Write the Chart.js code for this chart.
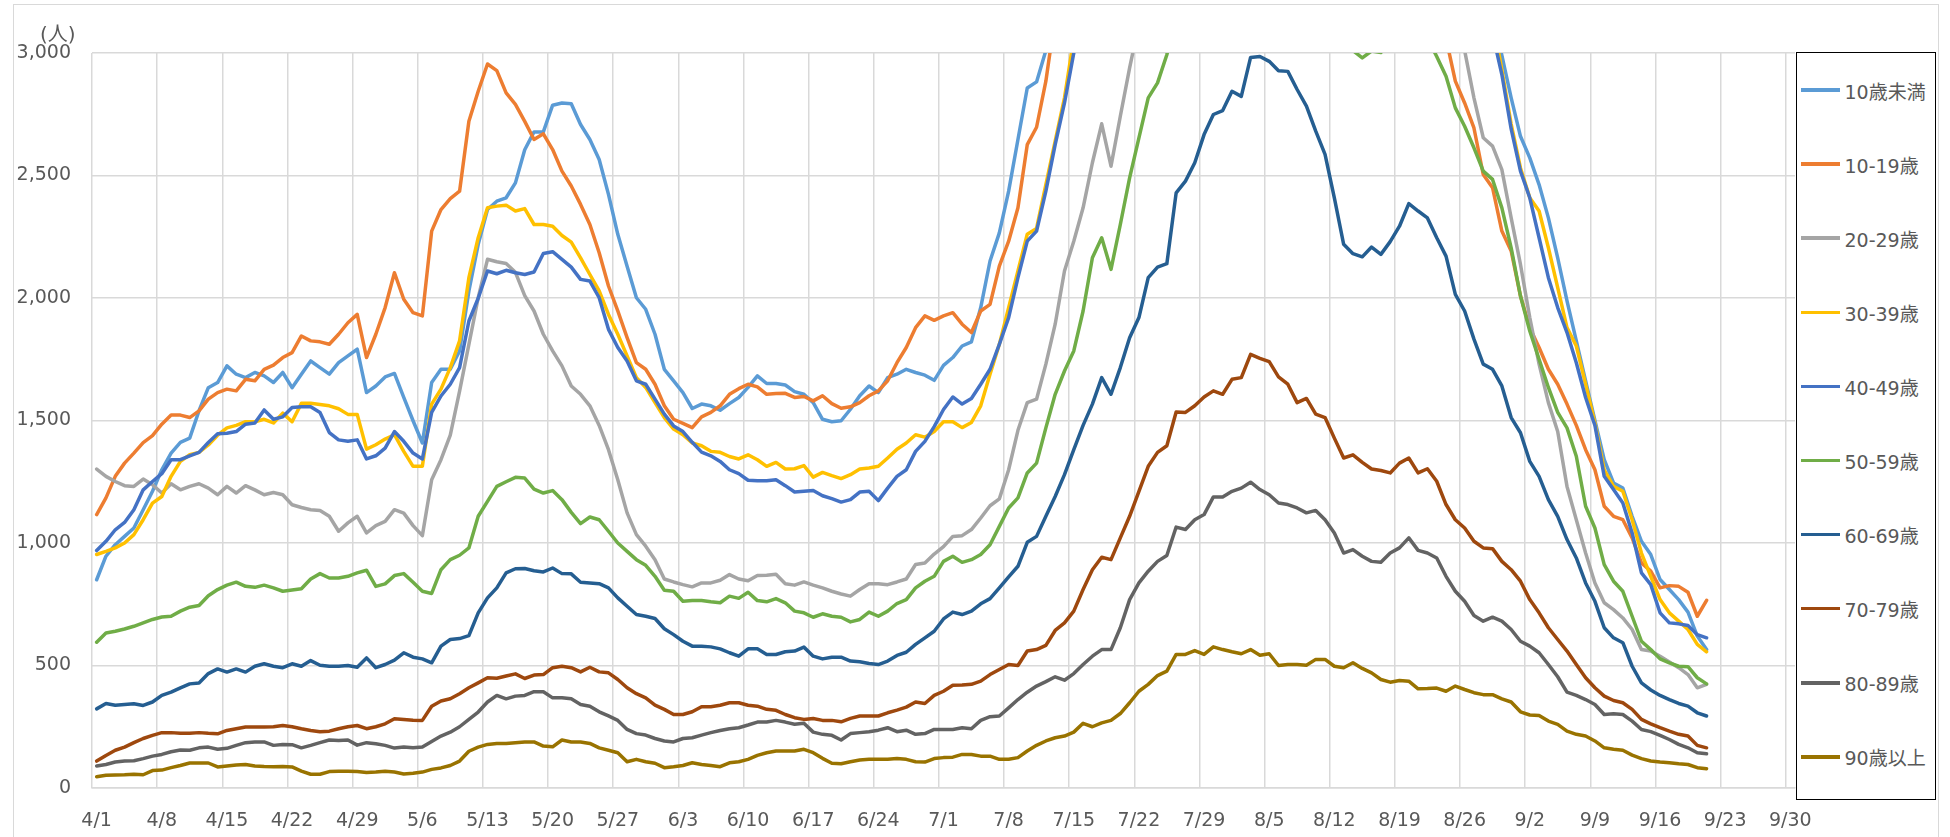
<!DOCTYPE html>
<html lang="ja">
<head>
<meta charset="utf-8">
<title>年代別 新規陽性者数</title>
<script src="https://cdn.jsdelivr.net/npm/chart.js@4.4.1/dist/chart.umd.min.js"></script>
<style>
  body { margin: 0; background: #fff; }
  #contenedor { position: relative; width: 1950px; height: 837px; overflow: hidden; background: #fff;
    font-family: "DejaVu Sans", "Noto Sans CJK JP", sans-serif; color: #595959; }
  #marco { position: absolute; left: 13px; top: 4px; width: 1924px; height: 880px; border: 1px solid #d9d9d9; }
  #grafica { position: absolute; left: 0; top: 0; }
  #unidad { position: absolute; left: 40px; top: 18px; font-size: 20px; }
  #leyenda { position: absolute; left: 1796px; top: 52px; width: 140px; height: 748px; box-sizing: border-box;
    border: 1.5px solid #000; background: #fff; }
  .item { height: 74.1px; display: flex; align-items: center; font-size: 19px; white-space: nowrap; }
  .linea { width: 39px; height: 3.5px; margin: 0 5px 0 3.5px; }
</style>
</head>
<body>
<div id="contenedor">
  <div id="marco"></div>
  <canvas id="grafica" width="1950" height="837"></canvas>
  <div id="unidad">(人)</div>
  <div id="leyenda"></div>
</div>
<script>
// 4/1 から 9/30 までの日付（目盛りは7日ごと）
const meses = [4, 5, 6, 7, 8, 9];
const diasPorMes = [30, 31, 30, 31, 31, 30];
const fechas = [];
meses.forEach((m, i) => {
    for (let d = 1; d <= diasPorMes[i]; d++) fechas.push(m + "/" + d);
});

const nombresSeries = ["10歳未満", "10-19歳", "20-29歳", "30-39歳", "40-49歳",
    "50-59歳", "60-69歳", "70-79歳", "80-89歳", "90歳以上"];
const coloresSeries = ["#5B9BD5", "#ED7D31", "#A5A5A5", "#FFC000", "#4472C4",
    "#70AD47", "#255E91", "#9E480E", "#636363", "#997300"];

// 一週間ごとに1行（4/1 〜 9/21）
const valores0a9 = [
    850, 946, 993, 1027, 1061, 1136, 1211,
    1299, 1367, 1411, 1428, 1540, 1634, 1655,
    1723, 1689, 1675, 1696, 1682, 1655, 1696,
    1634, 1689, 1743, 1716, 1689, 1736, 1764,
    1791, 1614, 1641, 1678, 1692, 1594, 1499,
    1408, 1655, 1709, 1709, 1784, 2029, 2219,
    2361, 2395, 2409, 2470, 2605, 2678, 2678,
    2787, 2796, 2793, 2708, 2647, 2565, 2423,
    2260, 2130, 2001, 1954, 1852, 1709, 1662,
    1614, 1549, 1567, 1560, 1542, 1569, 1594,
    1635, 1682, 1651, 1651, 1645, 1618, 1607,
    1573, 1505, 1495, 1499, 1546, 1601, 1641,
    1614, 1675, 1689, 1709, 1696, 1685, 1664,
    1725, 1757, 1804, 1821, 1961, 2151, 2266,
    2436, 2647, 2857, 2882, 3010, 3200, 3420,
    3600, 3780, 3950, 4150, 4300, 4420, 4600,
    4750, 4820, 4950, 5050, 5100, 5200, 5150,
    5250, 5300, 5200, 5280, 5150, 5100, 5050,
    4950, 4900, 4800, 4750, 4700, 4650, 4580,
    4500, 4420, 4350, 4300, 4250, 4150, 4050,
    3980, 3900, 3820, 3750, 3650, 3580, 3480,
    3380, 3300, 3230, 3160, 2990, 2817, 2660,
    2572, 2463, 2327, 2164, 1988, 1825, 1662,
    1500, 1340, 1245, 1224, 1109, 1007, 953,
    851, 810, 769, 718, 620, 565
];
const valores10a19 = [
    1116, 1184, 1272, 1326, 1367, 1410, 1438,
    1485, 1522, 1522, 1512, 1539, 1587, 1614,
    1628, 1621, 1668, 1662, 1709, 1726, 1757,
    1777, 1845, 1825, 1821, 1811, 1852, 1899,
    1933, 1757, 1852, 1961, 2103, 1995, 1940,
    1927, 2273, 2361, 2406, 2436, 2721, 2844,
    2955, 2928, 2837, 2790, 2721, 2647, 2670,
    2606, 2518, 2457, 2382, 2300, 2185, 2049,
    1947, 1838, 1736, 1709, 1648, 1560, 1505,
    1488, 1471, 1515, 1533, 1560, 1607, 1630,
    1648, 1637, 1607, 1610, 1611, 1594, 1598,
    1580, 1601, 1569, 1550, 1556, 1573, 1601,
    1621, 1662, 1736, 1798, 1879, 1927, 1909,
    1927, 1940, 1893, 1859, 1947, 1974, 2130,
    2232, 2368, 2626, 2697, 2885, 3150, 3350,
    3500, 3700, 3850, 4000, 4150, 4250, 4400,
    4500, 4550, 4650, 4700, 4750, 4800, 4750,
    4850, 4800, 4700, 4750, 4650, 4600, 4500,
    4450, 4350, 4300, 4200, 4150, 4050, 3950,
    3900, 3800, 3700, 3650, 3550, 3500, 3400,
    3350, 3300, 3250, 3180, 3120, 3060, 2885,
    2796, 2694, 2504, 2450, 2273, 2192, 2008,
    1879, 1798, 1709, 1648, 1567, 1480, 1381,
    1299, 1150, 1109, 1095, 1021, 919, 885,
    817, 826, 823, 799, 701, 766
];
const valores20a29 = [
    1302, 1272, 1251, 1234, 1231, 1261, 1238,
    1204, 1242, 1217, 1231, 1242, 1224, 1197,
    1231, 1204, 1234, 1217, 1197, 1206, 1197,
    1156, 1145, 1136, 1133, 1109, 1048, 1082,
    1109, 1041, 1071, 1088, 1136, 1122, 1071,
    1030, 1258, 1340, 1440, 1620, 1811, 2001,
    2158, 2148, 2141, 2105, 2010, 1947, 1852,
    1784, 1723, 1641, 1607, 1560, 1480, 1381,
    1258, 1123, 1034, 987, 932, 853, 841,
    830, 821, 837, 837, 848, 871, 853,
    846, 867, 868, 872, 834, 828, 841,
    828, 817, 803, 792, 783, 810, 834,
    834, 830, 841, 853, 912, 918, 955,
    985, 1027, 1030, 1055, 1102, 1152, 1180,
    1299, 1460, 1573, 1587, 1730, 1893, 2110,
    2232, 2368, 2552, 2711, 2538, 2742, 2939,
    3120, 3250, 3400, 3500, 3650, 3750, 3800,
    3900, 3950, 4000, 4050, 3950, 4000, 4050,
    3900, 3850, 3800, 3750, 3700, 3650, 3600,
    3550, 3500, 3500, 3450, 3400, 3450, 3400,
    3350, 3300, 3300, 3250, 3200, 3180, 3120,
    3010, 2817, 2654, 2620, 2524, 2327, 2137,
    1920, 1730, 1573, 1455, 1231, 1095, 959,
    837, 756, 728, 694, 647, 565, 559,
    538, 514, 491, 463, 409, 423
];
const valores30a39 = [
    953, 966, 980, 1000, 1034, 1095, 1163,
    1190, 1272, 1333, 1360, 1370, 1400, 1440,
    1470, 1480, 1495, 1495, 1505, 1490, 1530,
    1495, 1570, 1570, 1565, 1560, 1548, 1525,
    1525, 1383, 1401, 1424, 1442, 1374, 1313,
    1313, 1567, 1628, 1716, 1825, 2083, 2246,
    2368, 2375, 2379, 2355, 2365, 2300, 2300,
    2293, 2255, 2228, 2164, 2096, 2029, 1933,
    1852, 1764, 1675, 1635, 1573, 1512, 1465,
    1442, 1408, 1397, 1374, 1370, 1353, 1343,
    1360, 1340, 1313, 1329, 1302, 1303, 1316,
    1269, 1288, 1275, 1263, 1279, 1302, 1306,
    1313, 1347, 1383, 1408, 1442, 1432, 1455,
    1495, 1495, 1471, 1492, 1560, 1689, 1811,
    1961, 2110, 2260, 2284, 2463, 2640, 2817,
    3060, 3250, 3400, 3550, 3700, 3850, 3950,
    4100, 4200, 4300, 4350, 4450, 4500, 4550,
    4600, 4550, 4650, 4600, 4550, 4600, 4500,
    4450, 4400, 4350, 4300, 4250, 4200, 4150,
    4100, 4050, 3950, 3900, 3850, 3800, 3700,
    3650, 3600, 3550, 3500, 3450, 3400, 3350,
    3300, 3250, 3200, 3140, 2930, 2710, 2531,
    2409, 2355, 2205, 2042, 1879, 1804, 1648,
    1490, 1299, 1231, 1211, 1095, 959, 864,
    769, 715, 681, 647, 586, 556
];
const valores40a49 = [
    969, 1007, 1054, 1084, 1136, 1217, 1251,
    1283, 1340, 1340, 1356, 1370, 1410, 1446,
    1448, 1455, 1485, 1490, 1543, 1505, 1515,
    1553, 1556, 1556, 1533, 1451, 1421, 1415,
    1421, 1343, 1356, 1387, 1455, 1415, 1367,
    1343, 1533, 1600, 1648, 1716, 1906, 1999,
    2110, 2099, 2113, 2103, 2096, 2106, 2182,
    2189, 2158, 2126, 2076, 2069, 2001, 1872,
    1798, 1743, 1662, 1648, 1587, 1526, 1478,
    1455, 1411, 1371, 1356, 1333, 1299, 1283,
    1256, 1254, 1254, 1258, 1234, 1208, 1211,
    1214, 1193, 1181, 1167, 1177, 1208, 1211,
    1173, 1224, 1272, 1299, 1374, 1415, 1475,
    1545, 1596, 1567, 1590, 1648, 1709, 1811,
    1920, 2083, 2232, 2273, 2436, 2626, 2796,
    3000, 3200, 3350, 3500, 3650, 3800, 3900,
    4000, 4100, 4200, 4250, 4300, 4350, 4400,
    4350, 4450, 4400, 4350, 4400, 4300, 4250,
    4200, 4150, 4100, 4050, 4000, 3950, 3900,
    3850, 3800, 3750, 3700, 3650, 3600, 3550,
    3500, 3450, 3400, 3350, 3300, 3260, 3220,
    3180, 3140, 3100, 3080, 2912, 2690, 2518,
    2409, 2246, 2083, 1961, 1859, 1736, 1594,
    1480, 1272, 1218, 1163, 1041, 878, 830,
    715, 674, 670, 663, 626, 613
];
const valores50a59 = [
    595, 633, 640, 649, 660, 674, 688,
    698, 701, 722, 738, 745, 785, 810,
    828, 840, 823, 819, 828, 817, 803,
    808, 813, 853, 875, 857, 857, 864,
    878, 889, 823, 833, 867, 875, 840,
    803, 794, 891, 932, 950, 980, 1109,
    1170, 1231, 1250, 1268, 1265, 1220, 1204,
    1214, 1177, 1125, 1079, 1106, 1095, 1048,
    1000, 966, 932, 909, 864, 807, 803,
    762, 765, 765, 760, 756, 783, 774,
    799, 765, 760, 773, 756, 722, 715,
    697, 711, 701, 697, 678, 688, 718,
    701, 722, 753, 769, 817, 844, 864,
    925, 946, 921, 932, 953, 993, 1068,
    1143, 1184, 1286, 1326, 1470, 1607, 1702,
    1784, 1947, 2164, 2246, 2117, 2300, 2490,
    2654, 2817, 2878, 2993, 3150, 3300, 3400,
    3500, 3550, 3600, 3650, 3600, 3650, 3550,
    3500, 3450, 3400, 3350, 3300, 3250, 3200,
    3150, 3080, 3010, 2980, 3008, 3002, 3040,
    3080, 3120, 3100, 3060, 2986, 2905, 2776,
    2701, 2613, 2518, 2484, 2368, 2205, 2008,
    1865, 1750, 1635, 1533, 1470, 1354, 1150,
    1061, 912, 844, 803, 701, 599, 565,
    527, 511, 497, 495, 450, 425
];
const valores60a69 = [
    323, 345, 338, 341, 344, 337, 351,
    378, 391, 409, 425, 429, 467, 486,
    473, 486, 473, 497, 507, 497, 491,
    507, 497, 520, 501, 497, 497, 500,
    493, 531, 491, 504, 522, 552, 534,
    527, 511, 579, 606, 610, 622, 715,
    776, 817, 878, 895, 896, 887, 882,
    898, 875, 874, 840, 837, 834, 817,
    776, 742, 708, 701, 692, 650, 626,
    599, 579, 579, 576, 568, 552, 538,
    568, 568, 545, 545, 556, 559, 575,
    538, 527, 534, 534, 518, 515, 508,
    504, 518, 541, 554, 586, 613, 640,
    690, 718, 708, 722, 752, 773, 817,
    862, 905, 1003, 1027, 1109, 1190, 1279,
    1381, 1480, 1567, 1675, 1607, 1716, 1838,
    1920, 2083, 2126, 2140, 2429, 2477, 2552,
    2667, 2749, 2765, 2844, 2823, 2982, 2986,
    2966, 2928, 2925, 2851, 2783, 2681, 2586,
    2409, 2219, 2181, 2168, 2208, 2178, 2230,
    2293, 2385, 2355, 2327, 2246, 2171, 2015,
    1947, 1832, 1730, 1709, 1641, 1512, 1450,
    1333, 1272, 1177, 1109, 1014, 939, 837,
    762, 654, 613, 593, 497, 429, 400,
    378, 361, 345, 334, 307, 294
];
const valores70a79 = [
    110, 133, 154, 167, 185, 202, 215,
    226, 226, 223, 223, 226, 223, 221,
    235, 242, 249, 249, 249, 250, 255,
    250, 242, 235, 230, 232, 242, 250,
    255, 242, 250, 262, 283, 280, 277,
    276, 334, 355, 364, 385, 409, 429,
    450, 448, 457, 466, 447, 461, 463,
    491, 497, 491, 474, 493, 474, 470,
    443, 409, 385, 368, 338, 321, 300,
    300, 311, 332, 332, 338, 348, 348,
    338, 334, 321, 317, 300, 287, 280,
    284, 276, 276, 270, 284, 294, 294,
    294, 307, 318, 330, 351, 345, 378,
    395, 419, 420, 423, 436, 463, 484,
    504, 500, 559, 565, 582, 643, 674,
    722, 810, 891, 942, 932, 1021, 1109,
    1211, 1313, 1370, 1397, 1535, 1533, 1560,
    1596, 1621, 1607, 1668, 1675, 1770, 1754,
    1740, 1678, 1648, 1573, 1590, 1526, 1512,
    1428, 1347, 1360, 1329, 1302, 1296, 1286,
    1326, 1347, 1286, 1303, 1252, 1157, 1095,
    1061, 1007, 980, 977, 925, 891, 844,
    769, 715, 654, 606, 559, 504, 450,
    409, 375, 357, 348, 321, 280, 262,
    246, 232, 219, 212, 174, 164
];
const valores80a89 = [
    90, 96, 106, 110, 111, 120, 130,
    137, 148, 155, 154, 164, 167, 158,
    162, 174, 185, 188, 188, 174, 178,
    177, 164, 174, 185, 196, 194, 196,
    175, 185, 181, 174, 163, 167, 164,
    167, 190, 212, 228, 250, 280, 310,
    351, 378, 364, 375, 378, 393, 393,
    368, 368, 364, 341, 334, 311, 294,
    276, 239, 222, 216, 202, 192, 188,
    202, 205, 216, 226, 235, 242, 246,
    257, 269, 269, 276, 269, 260, 264,
    228, 219, 215, 196, 222, 226, 230,
    236, 246, 230, 236, 219, 222, 239,
    239, 239, 246, 242, 276, 291, 294,
    327, 361, 391, 416, 434, 454, 440,
    467, 504, 538, 565, 565, 654, 769,
    837, 885, 925, 949, 1065, 1055, 1095,
    1116, 1188, 1188, 1211, 1224, 1248, 1218,
    1197, 1163, 1157, 1143, 1123, 1133, 1095,
    1041, 959, 973, 946, 925, 921, 959,
    980, 1021, 970, 959, 939, 864, 803,
    762, 704, 681, 697, 681, 647, 599,
    579, 552, 504, 454, 391, 378, 361,
    341, 300, 303, 300, 273, 239, 230,
    215, 198, 178, 164, 144, 140
];
const valores90mas = [
    46, 52, 53, 54, 56, 54, 71,
    73, 83, 92, 102, 102, 102, 86,
    90, 94, 96, 90, 88, 87, 88,
    86, 69, 56, 56, 67, 68, 68,
    67, 63, 65, 68, 65, 57, 60,
    65, 76, 82, 92, 110, 150, 167,
    178, 182, 182, 185, 188, 188, 171,
    168, 196, 188, 188, 182, 164, 154,
    144, 107, 117, 107, 101, 83, 87,
    92, 103, 96, 92, 87, 103, 107,
    117, 133, 144, 151, 151, 151, 158,
    144, 121, 101, 99, 107, 114, 117,
    117, 117, 120, 117, 107, 106, 120,
    124, 126, 137, 137, 130, 130, 117,
    117, 124, 151, 174, 192, 205, 212,
    228, 264, 250, 266, 276, 304, 348,
    395, 423, 459, 477, 545, 545, 561,
    545, 576, 565, 556, 548, 565, 542,
    548, 500, 504, 504, 501, 525, 525,
    497, 491, 511, 488, 470, 443, 432,
    439, 436, 405, 406, 408, 395, 416,
    402, 389, 381, 381, 364, 351, 311,
    298, 296, 273, 260, 232, 219, 212,
    192, 164, 158, 154, 134, 120, 110,
    106, 103, 99, 96, 83, 79
];

const valoresSeries = [valores0a9, valores10a19, valores20a29, valores30a39, valores40a49,
    valores50a59, valores60a69, valores70a79, valores80a89, valores90mas];

const colorTexto = "#595959";
const colorRejilla = "#d9d9d9";
const fuente = { family: '"DejaVu Sans", "Noto Sans CJK JP", sans-serif', size: 19 };

function prepararConfiguracionParaLaGrafica() {
    // Excel dibuja la última serie encima, por eso el "order" va al revés
    const datasets = nombresSeries.map((nombre, i) => ({
        label: nombre,
        data: valoresSeries[i],
        borderColor: coloresSeries[i],
        backgroundColor: coloresSeries[i],
        borderWidth: 3.5,
        pointRadius: 0,
        pointHoverRadius: 0,
        tension: 0,
        fill: false,
        clip: 0,
        order: nombresSeries.length - i
    }));

    const config = {
        type: "line",
        data: {
            labels: fechas,
            datasets: datasets
        },
        options: {
            responsive: false,
            animation: false,
            devicePixelRatio: 1,
            layout: { padding: { left: 0, top: 53, right: 155, bottom: 0 } },
            plugins: {
                legend: { display: false },
                tooltip: { enabled: false }
            },
            elements: { line: { borderJoinStyle: "round", borderCapStyle: "round" } },
            scales: {
                x: {
                    offset: true,
                    grid: {
                        offset: true,
                        drawTicks: false,
                        lineWidth: 1.5,
                        color: ctx => ctx.index % 7 === 0 ? colorRejilla : "rgba(0,0,0,0)"
                    },
                    border: { color: colorRejilla, width: 1.5 },
                    ticks: {
                        autoSkip: false,
                        maxRotation: 0,
                        minRotation: 0,
                        padding: 22,
                        color: colorTexto,
                        font: fuente,
                        callback: (v, i) => i % 7 === 0 ? fechas[i] : ""
                    },
                    afterFit: escala => { escala.height = 49; }
                },
                y: {
                    min: 0,
                    max: 3000,
                    grid: { color: colorRejilla, lineWidth: 1.5, drawTicks: false },
                    border: { display: false },
                    ticks: {
                        stepSize: 500,
                        padding: 21,
                        color: colorTexto,
                        font: fuente,
                        callback: v => v.toLocaleString("en-US")
                    },
                    afterFit: escala => { escala.width = 92; }
                }
            }
        }
    };
    return config;
}

function armarLeyenda() {
    const caja = document.getElementById("leyenda");
    nombresSeries.forEach((nombre, i) => {
        const item = document.createElement("div");
        item.className = "item";
        const linea = document.createElement("span");
        linea.className = "linea";
        linea.style.background = coloresSeries[i];
        const texto = document.createElement("span");
        texto.textContent = nombre;
        item.appendChild(linea);
        item.appendChild(texto);
        caja.appendChild(item);
    });
}

function renderGrafica() {
    const config = prepararConfiguracionParaLaGrafica();
    const chartDOM = document.getElementById("grafica");
    new Chart(chartDOM, config);
    armarLeyenda();
}

renderGrafica();
</script>
</body>
</html>
